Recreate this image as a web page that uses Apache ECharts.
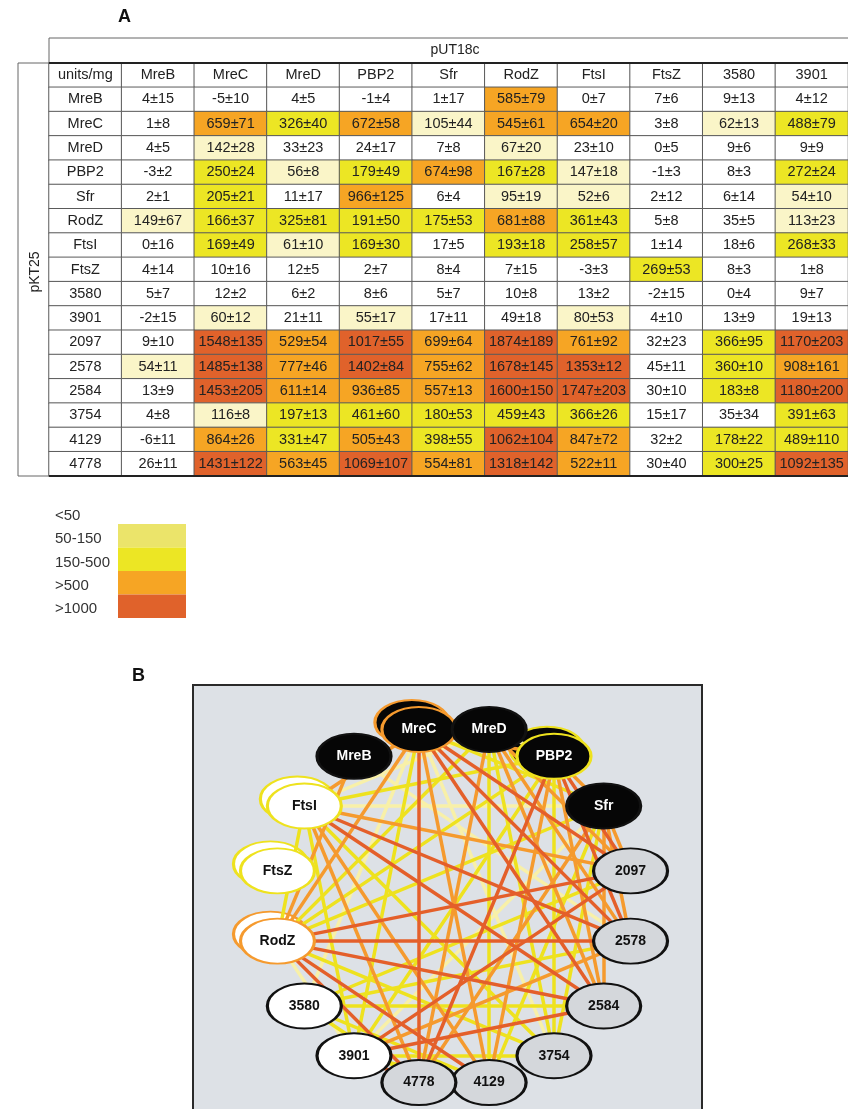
<!DOCTYPE html>
<html>
<head>
<meta charset="utf-8">
<title>pKT25 / pUT18c interactions</title>
<script src="https://cdn.jsdelivr.net/npm/echarts@6/dist/echarts.min.js"></script>
<style>
  html, body { margin: 0; padding: 0; background: #fff; }
  #main { width: 848px; height: 1109px; }
</style>
</head>
<body>
<div id="main"></div>
<script>
// pUT18c fusions (columns) and pKT25 fusions (rows)
const colNames = ['MreB', 'MreC', 'MreD', 'PBP2', 'Sfr', 'RodZ', 'FtsI', 'FtsZ', '3580', '3901'];
const rowNames = ['MreB', 'MreC', 'MreD', 'PBP2', 'Sfr', 'RodZ', 'FtsI', 'FtsZ', '3580', '3901',
  '2097', '2578', '2584', '3754', '4129', '4778'];

// beta-galactosidase activity, units/mg (mean)
const means = [
  [4, -5, 4, -1, 1, 585, 0, 7, 9, 4],
  [1, 659, 326, 672, 105, 545, 654, 3, 62, 488],
  [4, 142, 33, 24, 7, 67, 23, 0, 9, 9],
  [-3, 250, 56, 179, 674, 167, 147, -1, 8, 272],
  [2, 205, 11, 966, 6, 95, 52, 2, 6, 54],
  [149, 166, 325, 191, 175, 681, 361, 5, 35, 113],
  [0, 169, 61, 169, 17, 193, 258, 1, 18, 268],
  [4, 10, 12, 2, 8, 7, -3, 269, 8, 1],
  [5, 12, 6, 8, 5, 10, 13, -2, 0, 9],
  [-2, 60, 21, 55, 17, 49, 80, 4, 13, 19],
  [9, 1548, 529, 1017, 699, 1874, 761, 32, 366, 1170],
  [54, 1485, 777, 1402, 755, 1678, 1353, 45, 360, 908],
  [13, 1453, 611, 936, 557, 1600, 1747, 30, 183, 1180],
  [4, 116, 197, 461, 180, 459, 366, 15, 35, 391],
  [-6, 864, 331, 505, 398, 1062, 847, 32, 178, 489],
  [26, 1431, 563, 1069, 554, 1318, 522, 30, 300, 1092]
];
// standard deviation
const errs = [
  [15, 10, 5, 4, 17, 79, 7, 6, 13, 12],
  [8, 71, 40, 58, 44, 61, 20, 8, 13, 79],
  [5, 28, 23, 17, 8, 20, 10, 5, 6, 9],
  [2, 24, 8, 49, 98, 28, 18, 3, 3, 24],
  [1, 21, 17, 125, 4, 19, 6, 12, 14, 10],
  [67, 37, 81, 50, 53, 88, 43, 8, 5, 23],
  [16, 49, 10, 30, 5, 18, 57, 14, 6, 33],
  [14, 16, 5, 7, 4, 15, 3, 53, 3, 8],
  [7, 2, 2, 6, 7, 8, 2, 15, 4, 7],
  [15, 12, 11, 17, 11, 18, 53, 10, 9, 13],
  [10, 135, 54, 55, 64, 189, 92, 23, 95, 203],
  [11, 138, 46, 84, 62, 145, 12, 11, 10, 161],
  [9, 205, 14, 85, 13, 150, 203, 10, 8, 200],
  [8, 8, 13, 60, 53, 43, 26, 17, 34, 63],
  [11, 26, 47, 43, 55, 104, 72, 2, 22, 110],
  [11, 122, 45, 107, 81, 142, 11, 40, 25, 135]
];

// legend classes
const classLabels = ['<50', '50-150', '150-500', '>500', '>1000'];
const classBreaks = [50, 150, 500, 1000];

// network panel: order round the ring, and node groups
const ringOrder = ['2578', '2584', '3754', '4129', '4778', '3901', '3580', 'RodZ', 'FtsZ', 'FtsI',
  'MreB', 'MreC', 'MreD', 'PBP2', 'Sfr', '2097'];
const blackNodes = ['MreB', 'MreC', 'MreD', 'PBP2', 'Sfr'];
const whiteNodes = ['FtsI', 'FtsZ', 'RodZ', '3580', '3901'];

const cellColors = ['#ffffff', '#faf5c8', '#ece624', '#f6a524', '#e0622b'];
const legendColors = ['#ffffff', '#ebe46a', '#ece624', '#f6a524', '#e0622b'];
const edgeColors = [null, '#f8f0a8', '#eee21e', '#f59a2e', '#e45f2a'];
const FONT = 'Liberation Sans, Arial, sans-serif';

function classOf(v) {
  let k = 0;
  while (k < classBreaks.length && v >= classBreaks[k]) k++;
  return k;
}

// heatmap cells (header row + header column included as white cells)
const cellData = [];
const cellText = [];
cellData.push({ value: [0, 0, -1], itemStyle: { color: '#fff' } });
cellText.push('units/mg');
colNames.forEach((c, j) => {
  cellData.push({ value: [j + 1, 0, -1], itemStyle: { color: '#fff' } });
  cellText.push(c);
});
rowNames.forEach((r, i) => {
  cellData.push({ value: [0, i + 1, -1], itemStyle: { color: '#fff' } });
  cellText.push(r);
  colNames.forEach((c, j) => {
    const v = means[i][j];
    cellData.push({ value: [j + 1, i + 1, v], itemStyle: { color: cellColors[classOf(v)] } });
    cellText.push(v + '±' + errs[i][j]);
  });
});

// network: strongest value of either orientation for each pair
function pairValue(a, b) {
  let best = -Infinity;
  const ra = rowNames.indexOf(a), cb = colNames.indexOf(b);
  if (ra >= 0 && cb >= 0) best = Math.max(best, means[ra][cb]);
  const rb = rowNames.indexOf(b), ca = colNames.indexOf(a);
  if (rb >= 0 && ca >= 0) best = Math.max(best, means[rb][ca]);
  return best;
}

const links = [];
for (let a = 0; a < ringOrder.length; a++) {
  for (let b = a + 1; b < ringOrder.length; b++) {
    const v = pairValue(ringOrder[a], ringOrder[b]);
    const k = classOf(v);
    if (k > 0) links.push({ source: ringOrder[a], target: ringOrder[b], k: k });
  }
}
links.sort((p, q) => p.k - q.k);
const graphLinks = links.map(l => ({
  source: l.source, target: l.target,
  lineStyle: { color: edgeColors[l.k] }
}));

const ELLIPSE = 'path://M0,50 A50,50 0 1,1 100,50 A50,50 0 1,1 0,50 Z';

function selfClass(name) {
  return classOf(pairValue(name, name));
}

function nodeFill(n) {
  if (blackNodes.includes(n)) return '#060606';
  if (whiteNodes.includes(n)) return '#ffffff';
  return '#d4d7db';
}

const mainNodes = ringOrder.map(n => {
  const sk = selfClass(n);
  return {
    name: n,
    itemStyle: { color: nodeFill(n), borderColor: sk > 0 ? edgeColors[sk] : '#111', borderWidth: 2.5 },
    label: { color: blackNodes.includes(n) ? '#ffffff' : '#111111' }
  };
});

// second outline behind nodes that interact with themselves
const ghostNodes = ringOrder.map(n => {
  const sk = selfClass(n);
  return {
    name: n,
    itemStyle: {
      color: nodeFill(n),
      borderColor: sk > 0 ? edgeColors[sk] : '#111',
      borderWidth: 2.5,
      opacity: sk > 0 ? 1 : 0
    }
  };
});

// legend + frames
const graphics = [
  { type: 'text', left: 118, top: 8, style: { text: 'A', font: 'bold 18px ' + FONT, fill: '#111' } },
  { type: 'text', left: 132, top: 667, style: { text: 'B', font: 'bold 18px ' + FONT, fill: '#111' } },
  { type: 'rect', shape: { x: 49, y: 38, width: 820, height: 25 },
    style: { fill: '#fff', stroke: '#666', lineWidth: 1 } },
  { type: 'text', x: 455, y: 50, style: { text: 'pUT18c', font: '14px ' + FONT, fill: '#222', align: 'center', verticalAlign: 'middle' } },
  { type: 'polyline', shape: { points: [[49, 63], [18, 63], [18, 476], [49, 476]] },
    style: { fill: null, stroke: '#666', lineWidth: 1 } },
  { type: 'text', x: 35, y: 272, rotation: Math.PI / 2,
    style: { text: 'pKT25', font: '14px ' + FONT, fill: '#222', align: 'center', verticalAlign: 'middle' } },
  { type: 'line', z: 10, shape: { x1: 49, y1: 63, x2: 860, y2: 63 }, style: { stroke: '#222', lineWidth: 2 } },
  { type: 'line', z: 10, shape: { x1: 49, y1: 476, x2: 860, y2: 476 }, style: { stroke: '#222', lineWidth: 2 } },
  { type: 'rect', z: -1, shape: { x: 193, y: 685, width: 509, height: 440 },
    style: { fill: '#dde1e6', stroke: '#2a2a2a', lineWidth: 2 } }
];
classLabels.forEach((t, k) => {
  graphics.push({ type: 'text', x: 55, y: 516 + k * 23.3,
    style: { text: t, font: '15px ' + FONT, fill: '#333', verticalAlign: 'middle' } });
  if (k > 0) {
    graphics.push({ type: 'rect', shape: { x: 118, y: 524 + (k - 1) * 23.5, width: 68, height: 23.5 },
      style: { fill: legendColors[k] } });
  }
});

const ringBox = { left: 274, top: 726, width: 360, height: 360 };

const chart = echarts.init(document.getElementById('main'));
chart.setOption({
  animation: false,
  textStyle: { fontFamily: FONT },
  grid: { left: 49, top: 63, right: -10, height: 413 },
  xAxis: { type: 'category', data: ['units/mg'].concat(colNames), show: false },
  yAxis: { type: 'category', data: ['units/mg'].concat(rowNames), inverse: true, show: false },
  graphic: graphics,
  series: [
    {
      type: 'heatmap',
      data: cellData,
      itemStyle: { borderColor: '#5a5a5a', borderWidth: 1 },
      label: {
        show: true,
        fontFamily: FONT,
        fontSize: 14.5,
        color: '#222',
        formatter: p => cellText[p.dataIndex]
      },
      emphasis: { disabled: true }
    },
    Object.assign({
      type: 'graph',
      layout: 'circular',
      z: 1,
      symbol: ELLIPSE,
      symbolSize: [74, 45],
      symbolOffset: [-7, -7],
      data: ghostNodes,
      links: [],
      label: { show: false },
      silent: true
    }, ringBox),
    Object.assign({
      type: 'graph',
      layout: 'circular',
      z: 2,
      symbol: ELLIPSE,
      symbolSize: [74, 45],
      data: mainNodes,
      links: graphLinks,
      lineStyle: { width: 3.5, opacity: 1, curveness: 0 },
      label: { show: true, position: 'inside', fontFamily: FONT, fontSize: 14, fontWeight: 'bold' },
      emphasis: { disabled: true }
    }, ringBox)
  ]
});
</script>
</body>
</html>
